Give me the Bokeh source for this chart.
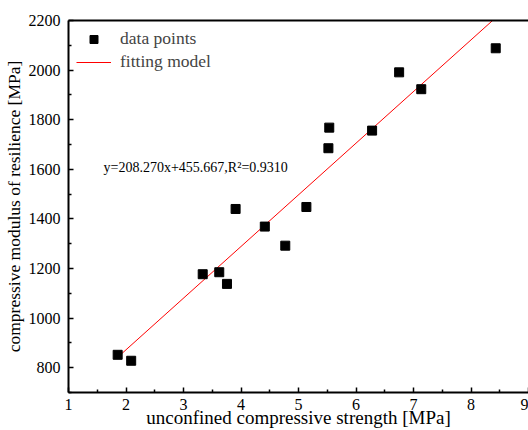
from bokeh.plotting import figure
from bokeh.models import Range1d, FixedTicker, Label, Legend, LegendItem, LinearAxis
from bokeh.embed import file_html
from bokeh.resources import INLINE

# data
ucs = [1.855, 2.09, 3.334, 3.622, 3.756, 3.906, 4.414, 4.77, 5.137, 5.52, 5.535, 6.28, 6.75, 7.135, 8.43]
modulus = [852, 828, 1177, 1185, 1138, 1440, 1369, 1292, 1448, 1685, 1768, 1756, 1991, 1923, 2088]

# fitting model given on the chart
slope = 208.270
intercept = 455.667
fit_x_start = 1.85
fit_y_end = 2200
fit_x = [fit_x_start, (fit_y_end - intercept) / slope]
fit_y = [slope * v + intercept for v in fit_x]

x_ticks = [1, 2, 3, 4, 5, 6, 7, 8, 9]
x_minor = [1.5, 2.5, 3.5, 4.5, 5.5, 6.5, 7.5, 8.5]
y_ticks = [800, 1000, 1200, 1400, 1600, 1800, 2000, 2200]
y_minor = [700, 900, 1100, 1300, 1500, 1700, 1900, 2100]

FONT = "Liberation Serif"

p = figure(width=528, height=430, output_backend="svg", toolbar_location=None,
           x_range=Range1d(1, 9), y_range=Range1d(700, 2200),
           min_border_left=68, min_border_top=20, min_border_bottom=38, min_border_right=0)
p.outline_line_color = None
p.xgrid.visible = False
p.ygrid.visible = False
p.background_fill_color = "white"
p.border_fill_color = "white"

fit_r = p.line(fit_x, fit_y, line_color="#ff0000", line_width=1)
pts_r = p.scatter(ucs, modulus, marker="square", size=9, fill_color="black", line_color="black")

for ax in (p.xaxis[0], p.yaxis[0]):
    ax.axis_line_width = 2
    ax.axis_line_color = "black"
    ax.major_tick_in = 5
    ax.major_tick_out = 0
    ax.minor_tick_in = 3
    ax.minor_tick_out = 0
    ax.major_tick_line_width = 1.5
    ax.minor_tick_line_width = 1.5
    ax.major_label_text_font = FONT
    ax.major_label_text_font_size = "16px"
    ax.major_label_text_color = "black"
    ax.axis_label_text_font = FONT
    ax.axis_label_text_font_style = "normal"
    ax.axis_label_text_color = "black"

p.xaxis[0].axis_label_text_font_size = "19px"
p.yaxis[0].axis_label_text_font_size = "17.5px"
p.xaxis[0].ticker = FixedTicker(ticks=x_ticks, minor_ticks=x_minor)
p.yaxis[0].ticker = FixedTicker(ticks=y_ticks, minor_ticks=y_minor)
p.xaxis[0].axis_label = "unconfined compressive strength [MPa]"
p.yaxis[0].axis_label = "compressive modulus of resilience [MPa]"
p.xaxis[0].major_label_standoff = 6
p.xaxis[0].axis_label_standoff = -6
p.yaxis[0].major_label_standoff = 8
p.yaxis[0].axis_label_standoff = 2

top = LinearAxis(ticker=FixedTicker(ticks=[]), major_label_text_font_size="0px",
                 axis_line_width=2, axis_line_color="black",
                 major_tick_line_color=None, minor_tick_line_color=None)
p.add_layout(top, "above")

legend = Legend(items=[LegendItem(label="data points", renderers=[pts_r]),
                       LegendItem(label="fitting model", renderers=[fit_r])],
                location="top_left", margin=8, padding=10, spacing=2,
                glyph_width=35, glyph_height=20, label_standoff=9,
                label_text_font=FONT, label_text_font_size="17.5px",
                border_line_color=None, background_fill_alpha=0)
p.add_layout(legend)

p.add_layout(Label(x=1.61, y=1607, text="y=208.270x+455.667,R²=0.9310",
                   text_font=FONT, text_font_size="14px", text_color="black",
                   text_baseline="middle", text_align="left"))

open("out.html", "w").write(file_html(p, INLINE))
